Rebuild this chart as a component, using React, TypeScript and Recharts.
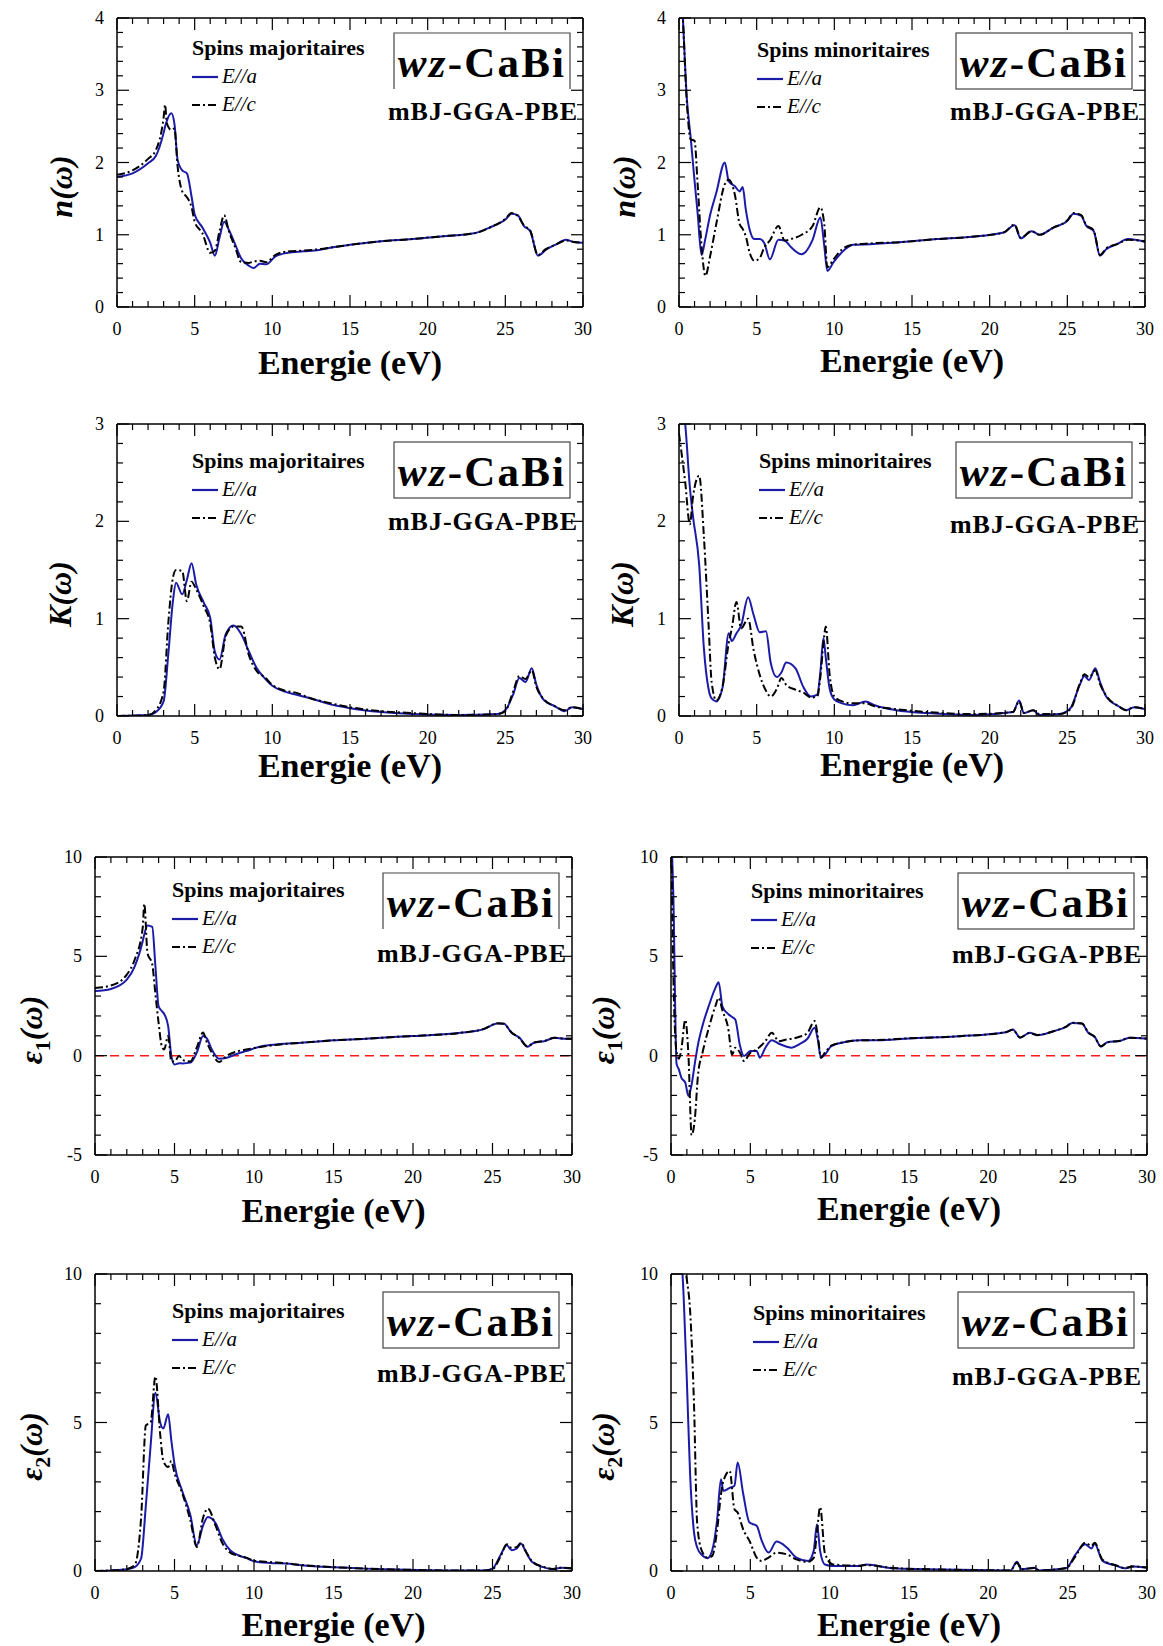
import { LineChart, Line, XAxis, YAxis, ReferenceLine } from "recharts";

const FONT = "'Liberation Serif', 'Times New Roman', serif";
const BLUE = "#1b1ba8";
const DASHDOT = "8 3 2 3";
const AXIS = { stroke: "#000", strokeWidth: 1.5 };

// tick labels
const xMajor = [0, 5, 10, 15, 20, 25, 30];
const nMajor = [0, 1, 2, 3, 4];
const kMajor = [0, 1, 2, 3];
const eps1Major = [-5, 0, 5, 10];
const eps2Major = [0, 5, 10];

// n(w) - spins majoritaires
const nUpE = [0, 1, 2, 2.5, 3.0, 3.1, 3.2, 3.5, 3.7, 3.9, 4.2, 4.5, 4.8, 5.0, 5.5, 6.0, 6.3, 6.6, 6.9, 7.2, 7.6, 8.0, 8.5, 8.8, 9.2, 9.6, 10.2, 11, 12, 13, 14, 15, 17, 19, 21, 23, 24, 25, 25.4, 25.8, 26.2, 26.6, 27.1, 27.6, 28.3, 28.9, 29.4, 30];
const nUpA = [1.80, 1.85, 1.99, 2.09, 2.41, 2.50, 2.57, 2.68, 2.53, 2.04, 1.89, 1.85, 1.53, 1.28, 1.10, 0.89, 0.71, 0.96, 1.18, 1.07, 0.87, 0.67, 0.57, 0.54, 0.60, 0.59, 0.70, 0.75, 0.77, 0.79, 0.83, 0.86, 0.91, 0.94, 0.98, 1.02, 1.10, 1.21, 1.29, 1.27, 1.12, 1.05, 0.71, 0.79, 0.87, 0.93, 0.90, 0.89];
const nUpC = [1.83, 1.89, 2.05, 2.17, 2.62, 2.80, 2.55, 2.45, 2.47, 1.95, 1.60, 1.52, 1.38, 1.18, 1.02, 0.75, 0.78, 1.05, 1.27, 1.05, 0.83, 0.62, 0.61, 0.63, 0.64, 0.62, 0.72, 0.77, 0.78, 0.80, 0.83, 0.86, 0.91, 0.94, 0.98, 1.02, 1.10, 1.22, 1.30, 1.26, 1.13, 1.06, 0.72, 0.80, 0.87, 0.92, 0.90, 0.89];

// n(w) - spins minoritaires
const nDnE = [0, 0.25, 0.5, 0.75, 1.0, 1.2, 1.45, 1.7, 2.0, 2.4, 2.95, 3.2, 3.6, 3.9, 4.1, 4.3, 4.55, 4.85, 5.2, 5.5, 5.85, 6.4, 6.8, 7.2, 7.9, 8.6, 9.1, 9.35, 9.55, 9.95, 10.5, 11.2, 12.3, 14.4, 16.6, 18.7, 20.9, 21.6, 22.0, 22.7, 23.2, 24.1, 25.0, 25.4, 25.9, 26.2, 26.7, 27.1, 27.5, 28.2, 28.9, 30];
const nDnA = [5.0, 4.0, 2.90, 2.35, 1.75, 1.30, 0.72, 0.95, 1.27, 1.58, 2.0, 1.74, 1.67, 1.60, 1.66, 1.35, 1.07, 0.94, 0.94, 0.88, 0.66, 0.93, 0.92, 0.83, 0.73, 0.93, 1.24, 0.85, 0.50, 0.62, 0.76, 0.86, 0.87, 0.90, 0.94, 0.97, 1.03, 1.13, 0.95, 1.05, 1.00, 1.10, 1.19, 1.29, 1.26, 1.13, 1.05, 0.71, 0.80, 0.87, 0.94, 0.90];
const nDnC = [5.0, 4.0, 2.85, 2.32, 2.30, 1.70, 0.85, 0.43, 0.70, 1.15, 1.70, 1.76, 1.55, 1.15, 1.08, 0.98, 0.75, 0.64, 0.68, 0.83, 0.92, 1.12, 0.92, 0.94, 1.00, 1.12, 1.38, 1.15, 0.55, 0.66, 0.80, 0.86, 0.88, 0.90, 0.94, 0.97, 1.03, 1.14, 0.96, 1.05, 1.00, 1.10, 1.20, 1.30, 1.27, 1.14, 1.06, 0.72, 0.81, 0.87, 0.93, 0.91];

// K(w) - spins majoritaires
const kUpE = [0, 2, 2.5, 3.0, 3.3, 3.6, 3.8, 4.2, 4.5, 4.8, 5.1, 5.6, 6.0, 6.3, 6.6, 7.0, 7.5, 8.0, 8.5, 9.0, 9.5, 10.0, 10.8, 11.5, 12.5, 13.5, 15, 17, 19, 22, 24.5, 25.0, 25.5, 25.9, 26.3, 26.7, 27.0, 27.5, 28.2, 28.8, 29.3, 30];
const kUpA = [0, 0.01, 0.04, 0.15, 0.63, 1.18, 1.37, 1.25, 1.40, 1.57, 1.35, 1.16, 1.01, 0.66, 0.58, 0.84, 0.93, 0.84, 0.66, 0.49, 0.39, 0.31, 0.25, 0.22, 0.18, 0.13, 0.08, 0.04, 0.02, 0.01, 0.02, 0.06, 0.22, 0.39, 0.35, 0.49, 0.32, 0.16, 0.10, 0.05, 0.09, 0.07];
const kUpC = [0, 0.01, 0.06, 0.25, 0.95, 1.42, 1.50, 1.49, 1.18, 1.38, 1.30, 1.12, 0.95, 0.60, 0.48, 0.82, 0.92, 0.92, 0.62, 0.46, 0.40, 0.32, 0.26, 0.24, 0.18, 0.14, 0.09, 0.05, 0.03, 0.01, 0.02, 0.05, 0.25, 0.41, 0.38, 0.47, 0.30, 0.17, 0.10, 0.06, 0.09, 0.07];

// K(w) - spins minoritaires
const kDnE = [0, 0.4, 0.7, 0.9, 1.3, 1.6, 1.9, 2.1, 2.4, 2.8, 3.2, 3.4, 3.7, 4.0, 4.45, 4.8, 5.2, 5.6, 5.9, 6.3, 6.6, 6.9, 7.5, 8.0, 8.5, 8.9, 9.1, 9.3, 9.45, 9.7, 10.0, 10.5, 11.2, 12.0, 12.6, 14, 16, 19, 21.5, 21.9, 22.2, 22.8, 23.2, 24.5, 25.2, 25.8, 26.1, 26.4, 26.8, 27.1, 27.5, 28.3, 28.8, 29.3, 30];
const kDnA = [3.4, 3.0, 2.35, 2.05, 1.55, 0.70, 0.28, 0.18, 0.15, 0.29, 0.85, 0.77, 0.85, 0.93, 1.22, 1.04, 0.86, 0.87, 0.55, 0.40, 0.45, 0.55, 0.49, 0.30, 0.20, 0.22, 0.45, 0.80, 0.60, 0.28, 0.17, 0.13, 0.11, 0.15, 0.11, 0.06, 0.03, 0.01, 0.04, 0.16, 0.03, 0.06, 0.01, 0.02, 0.08, 0.32, 0.41, 0.37, 0.49, 0.35, 0.20, 0.10, 0.06, 0.09, 0.07];
const kDnC = [2.9, 2.4, 1.97, 2.25, 2.47, 1.85, 0.95, 0.35, 0.16, 0.30, 0.75, 0.90, 1.17, 0.90, 1.00, 0.68, 0.42, 0.26, 0.20, 0.28, 0.39, 0.32, 0.27, 0.24, 0.19, 0.20, 0.40, 0.75, 0.92, 0.42, 0.20, 0.15, 0.13, 0.13, 0.10, 0.07, 0.04, 0.02, 0.04, 0.15, 0.03, 0.06, 0.02, 0.02, 0.07, 0.33, 0.43, 0.40, 0.47, 0.33, 0.21, 0.10, 0.06, 0.09, 0.07];

// eps1(w) - spins majoritaires
const e1UpE = [0, 1, 2, 2.5, 3.0, 3.1, 3.3, 3.6, 3.8, 4.0, 4.2, 4.35, 4.6, 4.8, 5.0, 5.3, 5.5, 6.0, 6.4, 6.8, 7.0, 7.4, 7.8, 8.3, 9.0, 9.5, 10.5, 11.5, 13, 15, 17, 19, 21, 23, 24.5, 25.3, 25.7, 26.2, 26.7, 27.2, 27.6, 28.3, 28.9, 29.5, 30];
const e1UpA = [3.25, 3.36, 3.83, 4.5, 5.76, 6.1, 6.55, 6.48, 4.5, 2.49, 2.25, 2.1, 1.49, 0.0, -0.44, -0.38, -0.39, -0.35, 0.15, 0.99, 0.90, 0.23, -0.15, -0.10, 0.11, 0.23, 0.48, 0.57, 0.65, 0.77, 0.85, 0.95, 1.03, 1.15, 1.35, 1.62, 1.62, 1.15, 0.90, 0.45, 0.65, 0.74, 0.90, 0.85, 0.85];
const e1UpC = [3.41, 3.53, 4.08, 4.84, 6.43, 7.65, 5.17, 4.6, 3.1, 1.65, 0.48, 0.31, 0.99, -0.28, -0.30, 0.0, -0.22, -0.29, 0.40, 1.16, 0.74, 0.07, -0.32, 0.0, 0.23, 0.31, 0.45, 0.55, 0.65, 0.77, 0.85, 0.95, 1.03, 1.15, 1.36, 1.63, 1.60, 1.17, 0.88, 0.47, 0.66, 0.75, 0.90, 0.86, 0.85];

// eps1(w) - spins minoritaires
const e1DnE = [0, 0.15, 0.35, 0.5, 0.65, 0.9, 1.1, 1.3, 1.5, 1.7, 2.0, 2.4, 2.8, 3.0, 3.25, 3.6, 3.85, 4.05, 4.35, 4.6, 5.0, 5.4, 5.6, 5.95, 6.35, 6.8, 7.3, 7.6, 8.1, 8.6, 9.05, 9.25, 9.45, 9.7, 10.1, 10.9, 11.9, 13, 15, 18.2, 21.1, 21.55, 22.0, 22.6, 23.1, 24.1, 24.9, 25.3, 25.9, 26.3, 26.7, 27.1, 27.5, 28.3, 28.9, 30];
const e1DnA = [12, 8.0, -0.4, -0.7, -1.1, -1.36, -2.03, -1.45, -0.4, 0.55, 1.55, 2.55, 3.41, 3.70, 2.45, 2.10, 1.95, 1.82, 0.50, -0.02, 0.23, 0.23, -0.10, 0.40, 0.78, 0.60, 0.45, 0.40, 0.58, 0.85, 1.40, 0.82, -0.10, 0.05, 0.48, 0.68, 0.77, 0.78, 0.87, 0.98, 1.18, 1.32, 0.90, 1.15, 1.03, 1.23, 1.45, 1.65, 1.62, 1.15, 0.95, 0.45, 0.68, 0.74, 0.90, 0.85];
const e1DnC = [12, 4.0, 0.2, -0.15, 0.3, 1.80, 0.0, -4.0, -3.2, -1.0, 0.2, 1.45, 2.5, 2.91, 2.25, 1.40, 0.06, 0.40, 0.15, -0.27, 0.15, 0.31, 0.45, 0.73, 1.15, 0.73, 0.82, 0.85, 0.95, 1.15, 1.74, 1.0, -0.10, 0.15, 0.50, 0.68, 0.77, 0.79, 0.87, 0.98, 1.18, 1.30, 0.92, 1.14, 1.04, 1.23, 1.46, 1.66, 1.62, 1.17, 0.94, 0.47, 0.67, 0.75, 0.90, 0.86];

// eps2(w) - spins majoritaires
const e2UpE = [0, 1, 2, 2.5, 2.9, 3.2, 3.5, 3.8, 4.1, 4.3, 4.6, 4.8, 5.0, 5.5, 6.0, 6.4, 6.8, 7.1, 7.6, 8.0, 8.5, 9.0, 9.5, 10.0, 11, 12, 13, 14, 15, 17, 19, 22, 24.5, 25.0, 25.5, 25.9, 26.2, 26.5, 26.8, 27.1, 27.5, 28.2, 28.8, 29.3, 30];
const e2UpA = [0, 0.02, 0.06, 0.13, 0.42, 2.22, 4.24, 6.0, 5.0, 4.8, 5.28, 4.4, 3.6, 2.67, 1.88, 0.87, 1.54, 1.82, 1.60, 1.09, 0.70, 0.53, 0.44, 0.33, 0.27, 0.25, 0.19, 0.15, 0.13, 0.08, 0.05, 0.02, 0.02, 0.08, 0.53, 0.87, 0.70, 0.75, 0.92, 0.64, 0.30, 0.13, 0.06, 0.11, 0.08];
const e2UpC = [0, 0.02, 0.07, 0.20, 1.8, 4.9, 5.0, 6.55, 4.6, 3.7, 3.5, 3.7, 3.3, 2.6, 1.7, 0.81, 1.8, 2.1, 1.5, 0.95, 0.62, 0.52, 0.45, 0.35, 0.30, 0.26, 0.20, 0.16, 0.13, 0.08, 0.05, 0.02, 0.02, 0.06, 0.48, 0.90, 0.78, 0.80, 0.95, 0.66, 0.32, 0.14, 0.07, 0.11, 0.09];

// eps2(w) - spins minoritaires
const e2DnE = [0, 0.5, 0.8, 1.0, 1.2, 1.45, 1.65, 1.95, 2.3, 2.6, 2.9, 3.15, 3.3, 3.7, 4.0, 4.2, 4.55, 4.95, 5.4, 5.7, 6.15, 6.65, 7.3, 7.9, 8.65, 9.0, 9.2, 9.4, 9.7, 10.2, 11.9, 12.3, 14, 16.1, 19.3, 21.4, 21.8, 22.1, 22.9, 23.2, 24.9, 25.5, 26.1, 26.5, 26.7, 27.2, 28.1, 28.6, 29.1, 30];
const e2DnA = [16, 12, 9.2, 6.4, 3.3, 1.3, 0.79, 0.54, 0.43, 0.70, 1.69, 3.09, 2.70, 2.80, 2.87, 3.65, 2.6, 1.63, 1.52, 1.05, 0.62, 0.99, 0.79, 0.45, 0.34, 0.70, 1.57, 0.67, 0.22, 0.17, 0.17, 0.22, 0.09, 0.06, 0.03, 0.02, 0.31, 0.06, 0.11, 0.02, 0.09, 0.56, 0.90, 0.76, 0.92, 0.34, 0.17, 0.09, 0.15, 0.11];
const e2DnC = [18, 14, 10.5, 9.8, 8.8, 5.6, 1.6, 0.67, 0.45, 0.51, 1.35, 2.58, 3.03, 3.37, 2.08, 1.97, 1.40, 1.01, 0.45, 0.34, 0.45, 0.62, 0.56, 0.39, 0.31, 0.45, 1.3, 2.15, 0.60, 0.22, 0.18, 0.20, 0.10, 0.06, 0.03, 0.02, 0.28, 0.06, 0.10, 0.02, 0.10, 0.50, 0.95, 0.85, 0.95, 0.38, 0.18, 0.10, 0.15, 0.12];

const steps = (lo: number, hi: number, step: number) =>
  Array.from({ length: Math.round((hi - lo) / step) + 1 }, (_, i) => +(lo + i * step).toFixed(3));

type Ann = { lx: number; ly: number; boxY: number; mbjY: number; labX: number; xlabOff: number; openBox?: boolean };

type PanelProps = {
  left: number; top: number; w: number; h: number;
  energy: number[]; a: number[]; c: number[];
  yDomain: [number, number]; yMajor: number[]; yStep: number;
  sym: string; sub?: string; spin: string; zero?: boolean; ann: Ann;
};

const MAJ = 12;
const MIN = 6;

function Panel(p: PanelProps) {
  const { left, top, w, h, energy, a, c, yDomain, yMajor, yStep, sym, sub, spin, zero, ann } = p;
  const PL = 100, PT = 10, PR = 20, PB = 90;
  const W = w + PL + PR;
  const H = h + PT + PB;
  const rows = energy.map((e, i) => ({ e, a: a[i], c: c[i] }));
  const xTicks = steps(0, 30, 1);
  const yTicks = steps(yDomain[0], yDomain[1], yStep);
  const isX = (v: number) => xMajor.includes(v);
  const isY = (v: number) => yMajor.includes(v);
  const boxW = 176;
  const boxX = w - 13 - boxW;
  const boxH = 56;

  const bottomTick = (t: any) => {
    const v = t.payload.value;
    const M = isX(v);
    return (
      <g>
        <line x1={t.x} x2={t.x} y1={t.y} y2={t.y - (M ? MAJ : MIN)} stroke="#000" strokeWidth={1.2} />
        {M && (
          <text x={t.x} y={t.y + 28} textAnchor="middle" fontFamily={FONT} fontSize={18} fill="#000">{v}</text>
        )}
      </g>
    );
  };
  const topTick = (t: any) => {
    const M = isX(t.payload.value);
    return <line x1={t.x} x2={t.x} y1={t.y} y2={t.y + (M ? MAJ : MIN)} stroke="#000" strokeWidth={1.2} />;
  };
  const leftTick = (t: any) => {
    const v = t.payload.value;
    const M = isY(v);
    return (
      <g>
        <line x1={t.x} x2={t.x + (M ? MAJ : MIN)} y1={t.y} y2={t.y} stroke="#000" strokeWidth={1.2} />
        {M && (
          <text x={t.x - 13} y={t.y + 6} textAnchor="end" fontFamily={FONT} fontSize={18} fill="#000">{v}</text>
        )}
      </g>
    );
  };
  const rightTick = (t: any) => {
    const M = isY(t.payload.value);
    return <line x1={t.x} x2={t.x - (M ? MAJ : MIN)} y1={t.y} y2={t.y} stroke="#000" strokeWidth={1.2} />;
  };

  return (
    <div style={{ position: "absolute", left: left - PL, top: top - PT, width: W, height: H }}>
      <LineChart width={W} height={H} data={rows} margin={{ top: PT - 1, right: PR - 1, bottom: 0, left: 0 }}>
        <XAxis xAxisId="b" dataKey="e" type="number" domain={[0, 30]} allowDataOverflow ticks={xTicks} interval={0}
          height={PB} tickSize={0} tickMargin={0} tickLine={false} axisLine={AXIS} tick={bottomTick} />
        <XAxis xAxisId="t" orientation="top" dataKey="e" type="number" domain={[0, 30]} allowDataOverflow ticks={xTicks}
          interval={0} height={1} tickSize={0} tickMargin={0} tickLine={false} axisLine={AXIS} tick={topTick} />
        <YAxis yAxisId="l" type="number" domain={yDomain} allowDataOverflow ticks={yTicks} interval={0}
          width={PL} tickSize={0} tickMargin={0} tickLine={false} axisLine={AXIS} tick={leftTick} />
        <YAxis yAxisId="r" orientation="right" type="number" domain={yDomain} allowDataOverflow ticks={yTicks}
          interval={0} width={1} tickSize={0} tickMargin={0} tickLine={false} axisLine={AXIS} tick={rightTick} />
        {zero && (
          <ReferenceLine xAxisId="b" yAxisId="l" y={0} stroke="#ff1a1a" strokeWidth={1.5} strokeDasharray="9 6" />
        )}
        <Line xAxisId="t" yAxisId="r" type="monotone" dataKey="a" stroke="transparent" strokeWidth={0}
          dot={false} activeDot={false} isAnimationActive={false} legendType="none" />
        <Line xAxisId="b" yAxisId="l" type="monotone" dataKey="a" stroke={BLUE} strokeWidth={2}
          dot={false} activeDot={false} isAnimationActive={false} />
        <Line xAxisId="b" yAxisId="l" type="monotone" dataKey="c" stroke="#000" strokeWidth={2}
          strokeDasharray={DASHDOT} dot={false} activeDot={false} isAnimationActive={false} />
      </LineChart>
      <svg width={W} height={H} style={{ position: "absolute", left: 0, top: 0, pointerEvents: "none" }}
        fontFamily={FONT}>
        <g transform={`translate(${PL},${PT})`}>
          {/* y label */}
          <text transform={`translate(${ann.labX},${h / 2 + 24}) rotate(-90)`} textAnchor="middle"
            fontSize={32} fontWeight="bold" fontStyle="italic" fill="#000">
            <tspan>{sym}</tspan>
            {sub && <tspan fontSize={22} dy={8} fontStyle="normal">{sub}</tspan>}
            <tspan dy={sub ? -8 : 0}>(ω)</tspan>
          </text>
          {/* x label */}
          <text x={w / 2} y={h + ann.xlabOff} textAnchor="middle" fontSize={34} fontWeight="bold" fill="#000">
            Energie (eV)
          </text>
          {/* legend */}
          <text x={ann.lx} y={ann.ly} fontSize={22} fontWeight="bold" fill="#000">{spin}</text>
          <line x1={ann.lx} x2={ann.lx + 26} y1={ann.ly + 22} y2={ann.ly + 22} stroke={BLUE} strokeWidth={2.2} />
          <text x={ann.lx + 30} y={ann.ly + 28} fontSize={21} fontStyle="italic" fill="#000">E//a</text>
          <line x1={ann.lx} x2={ann.lx + 26} y1={ann.ly + 50} y2={ann.ly + 50} stroke="#000" strokeWidth={2.2}
            strokeDasharray={DASHDOT} />
          <text x={ann.lx + 30} y={ann.ly + 56} fontSize={21} fontStyle="italic" fill="#000">E//c</text>
          {/* title box */}
          {ann.openBox ? (
            <path d={`M${boxX},${ann.boxY + boxH} V${ann.boxY} H${boxX + boxW} V${ann.boxY + boxH}`} fill="none"
              stroke="#444" strokeWidth={1.2} />
          ) : (
            <rect x={boxX} y={ann.boxY} width={boxW} height={boxH} fill="#fff" stroke="#444" strokeWidth={1.2} />
          )}
          <text x={boxX + boxW / 2} y={ann.boxY + 44} textAnchor="middle" fontSize={43} fontWeight="bold"
            letterSpacing={2.2} fill="#000">
            <tspan fontStyle="italic">wz</tspan>
            <tspan>-CaBi</tspan>
          </text>
          <text x={w - 5} y={ann.mbjY} textAnchor="end" fontSize={26} fontWeight="bold" letterSpacing={1}
            fill="#000">
            mBJ-GGA-PBE
          </text>
        </g>
      </svg>
    </div>
  );
}

export default function App() {
  return (
    <div style={{ position: "absolute", left: 0, top: 0, width: 1163, height: 1646, background: "#fff" }}>
      <Panel left={117} top={18} w={466} h={289} energy={nUpE} a={nUpA} c={nUpC} yDomain={[0, 4]} yMajor={nMajor}
        yStep={0.2} sym="n" spin="Spins majoritaires"
        ann={{ lx: 75, ly: 37, boxY: 15, mbjY: 102, labX: -45, xlabOff: 67, openBox: true }} />
      <Panel left={679} top={18} w={466} h={289} energy={nDnE} a={nDnA} c={nDnC} yDomain={[0, 4]} yMajor={nMajor}
        yStep={0.2} sym="n" spin="Spins minoritaires"
        ann={{ lx: 78, ly: 39, boxY: 15, mbjY: 102, labX: -44, xlabOff: 65 }} />
      <Panel left={117} top={424} w={466} h={292} energy={kUpE} a={kUpA} c={kUpC} yDomain={[0, 3]} yMajor={kMajor}
        yStep={0.2} sym="K" spin="Spins majoritaires"
        ann={{ lx: 75, ly: 44, boxY: 18, mbjY: 106, labX: -46, xlabOff: 61 }} />
      <Panel left={679} top={424} w={466} h={292} energy={kDnE} a={kDnA} c={kDnC} yDomain={[0, 3]} yMajor={kMajor}
        yStep={0.2} sym="K" spin="Spins minoritaires"
        ann={{ lx: 80, ly: 44, boxY: 18, mbjY: 109, labX: -46, xlabOff: 60 }} />
      <Panel left={95} top={857} w={477} h={298} energy={e1UpE} a={e1UpA} c={e1UpC} yDomain={[-5, 10]}
        yMajor={eps1Major} yStep={1} sym="ε" sub="1" spin="Spins majoritaires" zero
        ann={{ lx: 77, ly: 40, boxY: 16, mbjY: 105, labX: -53, xlabOff: 67, openBox: true }} />
      <Panel left={671} top={857} w={476} h={298} energy={e1DnE} a={e1DnA} c={e1DnC} yDomain={[-5, 10]}
        yMajor={eps1Major} yStep={1} sym="ε" sub="1" spin="Spins minoritaires" zero
        ann={{ lx: 80, ly: 41, boxY: 16, mbjY: 106, labX: -57, xlabOff: 65 }} />
      <Panel left={95} top={1274} w={477} h={297} energy={e2UpE} a={e2UpA} c={e2UpC} yDomain={[0, 10]}
        yMajor={eps2Major} yStep={1} sym="ε" sub="2" spin="Spins majoritaires"
        ann={{ lx: 77, ly: 44, boxY: 18, mbjY: 108, labX: -53, xlabOff: 65 }} />
      <Panel left={671} top={1274} w={476} h={297} energy={e2DnE} a={e2DnA} c={e2DnC} yDomain={[0, 10]}
        yMajor={eps2Major} yStep={1} sym="ε" sub="2" spin="Spins minoritaires"
        ann={{ lx: 82, ly: 46, boxY: 18, mbjY: 111, labX: -57, xlabOff: 65 }} />
    </div>
  );
}
